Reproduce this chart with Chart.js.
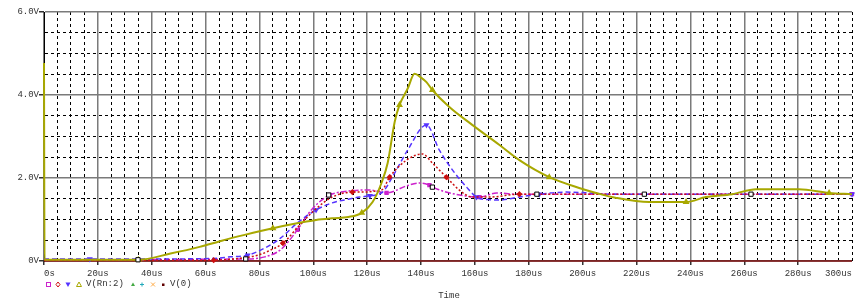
<!DOCTYPE html>
<html><head><meta charset="utf-8">
<script src="https://cdn.jsdelivr.net/npm/chart.js@4/dist/chart.umd.min.js"></script>
<style>
html,body{margin:0;padding:0;background:#fff;}
#wrap{position:relative;width:856px;height:304px;overflow:hidden;background:#fff;}
canvas{position:absolute;left:0;top:0;}
.lt{position:absolute;font:9px "Liberation Mono",monospace;color:#333;white-space:pre;line-height:10px;}
</style></head><body>
<div id="wrap"><canvas id="c" width="856" height="304"></canvas>
<div class="lt" style="left:86px;top:279px">V(Rn:2)</div>
<div class="lt" style="left:170px;top:279px">V(0)</div>
<div style="position:absolute;left:419px;top:291px;width:60px;height:7px;overflow:hidden;"><div class="lt" style="position:relative;text-align:center;width:60px;">Time</div></div>
</div>
<script>
// ---- tick labels ----
const xTickLabels = ['0s','20us','40us','60us','80us','100us','120us','140us','160us','180us','200us','220us','240us','260us','280us','300us'];
const yTickLabels = ['0V','2.0V','4.0V','6.0V'];

// ---- series: V(Rn:2), four sweep traces (time in us, value in V) ----
const oliveT = [0, 0.2, 35, 47, 57.8, 66, 74.5, 85, 94.9, 101, 107, 113, 118, 122, 125.3, 127.6, 130.2, 132, 135, 137.6, 140, 142, 144.2, 150.5, 159, 169, 176.5, 187.6, 198.7, 205, 212.5, 224.7, 238.4, 245.8, 255.5, 264.4, 280.3, 291.5, 300];
const oliveV = [4.77, 0.03, 0.03, 0.18, 0.34, 0.49, 0.63, 0.79, 0.92, 0.99, 1.03, 1.06, 1.16, 1.42, 1.88, 2.36, 3.35, 3.76, 4.15, 4.51, 4.42, 4.31, 4.12, 3.71, 3.28, 2.80, 2.43, 2.02, 1.76, 1.64, 1.52, 1.42, 1.42, 1.54, 1.61, 1.73, 1.73, 1.64, 1.61];

const blueT = [0, 17, 44, 62, 69.2, 75.6, 81.9, 87.8, 94.1, 101, 107, 113, 117.2, 121, 125.7, 130, 135, 142, 146.8, 151.7, 156.9, 160.6, 165, 169.1, 176.5, 183.9, 193.9, 202.5, 210, 300];
const blueV = [0.05, 0.05, 0.05, 0.06, 0.10, 0.14, 0.31, 0.55, 0.92, 1.23, 1.40, 1.49, 1.54, 1.57, 1.66, 2.10, 2.67, 3.28, 2.67, 2.19, 1.78, 1.54, 1.48, 1.47, 1.54, 1.61, 1.66, 1.64, 1.61, 1.61];

const redT = [0, 63, 72, 79.4, 84, 88.7, 95, 100.5, 107, 114.5, 119.7, 122, 125.6, 128.3, 134.6, 140.5, 144.2, 149.4, 154.2, 159, 165.3, 176.5, 300];
const redV = [0.02, 0.02, 0.06, 0.14, 0.26, 0.43, 0.87, 1.23, 1.54, 1.66, 1.66, 1.68, 1.72, 2.02, 2.43, 2.58, 2.36, 2.02, 1.71, 1.54, 1.54, 1.61, 1.61];

const magT = [0, 75, 82, 87.8, 94.1, 97.8, 101.5, 106.1, 113.5, 120.9, 127.2, 134.6, 139.4, 143.1, 146.1, 154.3, 161.7, 168, 175, 300];
const magV = [0.03, 0.05, 0.10, 0.27, 0.75, 1.11, 1.38, 1.59, 1.69, 1.71, 1.64, 1.81, 1.88, 1.83, 1.73, 1.59, 1.54, 1.64, 1.61, 1.61];

// ---- V(0) ----
const v0T = [0, 300];
const v0V = [0, 0];

// ---- cursor-style square markers ----
const boxT = [34.9, 74.9, 105.7, 144.2, 183, 222.9, 262.5];
const boxV = [0.03, 0.05, 1.59, 1.78, 1.61, 1.61, 1.61];

function pts(t, v) { return t.map((x, i) => ({x: x, y: v[i]})); }
function mk(every, off, r) { return c => (c.dataIndex % every === off ? r : 0); }
const isMajX = v => v % 20 === 0 && v < 300;
const isMajY = v => Math.abs(v % 2) < 1e-9;

const legendPlugin = {
  id: 'psLegend',
  afterDraw(chart) {
    const ctx = chart.ctx, y = 284.5;
    ctx.save();
    ctx.lineWidth = 1;
    ctx.strokeStyle = '#cc22cc'; ctx.strokeRect(46.5, y - 2, 4, 4);
    ctx.strokeStyle = '#cc1111'; ctx.beginPath();
    ctx.moveTo(58, y - 2.5); ctx.lineTo(60, y); ctx.lineTo(58, y + 2.5); ctx.lineTo(56, y); ctx.closePath(); ctx.stroke();
    ctx.fillStyle = '#5533ff'; ctx.beginPath();
    ctx.moveTo(65.5, y - 2); ctx.lineTo(70.5, y - 2); ctx.lineTo(68, y + 2.5); ctx.closePath(); ctx.fill();
    ctx.strokeStyle = '#a8a800'; ctx.beginPath();
    ctx.moveTo(79, y - 2.5); ctx.lineTo(81.5, y + 2); ctx.lineTo(76.5, y + 2); ctx.closePath(); ctx.stroke();
    ctx.fillStyle = '#44aa44'; ctx.beginPath();
    ctx.moveTo(133, y - 2); ctx.lineTo(135, y + 1.5); ctx.lineTo(131, y + 1.5); ctx.closePath(); ctx.fill();
    ctx.strokeStyle = '#22aabb'; ctx.beginPath();
    ctx.moveTo(142, y - 2); ctx.lineTo(142, y + 2); ctx.moveTo(140, y); ctx.lineTo(144, y); ctx.stroke();
    ctx.strokeStyle = '#ffaa44'; ctx.beginPath();
    ctx.moveTo(151, y - 2); ctx.lineTo(155, y + 2); ctx.moveTo(155, y - 2); ctx.lineTo(151, y + 2); ctx.stroke();
    ctx.fillStyle = '#600000'; ctx.fillRect(162, y - 1, 2.5, 2.5);
    ctx.restore();
  }
};

const FONT = {family: '"Liberation Mono", monospace', size: 9};

new Chart(document.getElementById('c'), {
  type: 'line',
  data: {
    datasets: [
      {label: 'box', data: pts(boxT, boxV), showLine: false, pointStyle: 'rect', pointRadius: 3,
       pointBackgroundColor: '#ffffff', pointBorderColor: '#000000', pointBorderWidth: 1, order: 0, clip: 6},
      {label: 'V(Rn:2)', data: pts(oliveT, oliveV), borderColor: '#a8a800', borderWidth: 2,
       pointStyle: 'triangle', pointRadius: mk(5, 2, 2), pointBackgroundColor: '#a8a800', pointBorderColor: '#a8a800',
       cubicInterpolationMode: 'monotone', order: 1, clip: 4},
      {label: 'V(Rn:2)', data: pts(redT, redV), borderColor: '#cc1111', borderWidth: 1.5, borderDash: [2, 2],
       pointStyle: 'rectRot', pointRadius: mk(4, 1, 2), pointBackgroundColor: '#cc1111', pointBorderColor: '#cc1111',
       cubicInterpolationMode: 'monotone', order: 2, clip: 4},
      {label: 'V(Rn:2)', data: pts(blueT, blueV), borderColor: '#5533ff', borderWidth: 1.5, borderDash: [5, 3],
       pointStyle: 'triangle', pointRotation: 180, pointRadius: mk(4, 1, 2), pointBackgroundColor: '#5533ff', pointBorderColor: '#5533ff',
       cubicInterpolationMode: 'monotone', order: 3, clip: 4},
      {label: 'V(Rn:2)', data: pts(magT, magV), borderColor: '#cc22cc', borderWidth: 1.5, borderDash: [6, 2, 2, 2],
       pointStyle: 'rect', pointRadius: mk(3, 1, 2), pointBackgroundColor: '#cc22cc', pointBorderColor: '#cc22cc',
       cubicInterpolationMode: 'monotone', order: 4, clip: 4},
      {label: 'V(0)', data: pts(v0T, v0V), borderColor: '#7a0a0a', borderWidth: 1.5, pointRadius: 0, order: 5, clip: 4}
    ]
  },
  options: {
    responsive: false,
    animation: false,
    devicePixelRatio: 1,
    layout: {padding: {left: 0, right: 3, top: 12, bottom: 0}},
    plugins: {legend: {display: false}, tooltip: {enabled: false}},
    events: [],
    elements: {point: {hoverRadius: 0}, line: {tension: 0}},
    scales: {
      x: {
        type: 'linear', min: 0, max: 300,
        afterFit: s => { s.height = 43; },
        ticks: {stepSize: 5, autoSkip: false, maxRotation: 0, minRotation: 0, align: 'inner', padding: 3,
                color: '#333', font: FONT,
                callback: v => (v % 20 === 0 ? xTickLabels[v / 20] : '')},
        grid: {
          color: c => (c.tick && isMajX(c.tick.value) ? '#7a7a7a' : '#000000'),
          lineWidth: c => (c.tick && isMajX(c.tick.value) ? 1.5 : 1),
          tickLength: 4,
          tickColor: c => (c.tick && isMajX(c.tick.value) ? '#333333' : 'rgba(0,0,0,0)')
        },
        border: {display: false, dash: c => (c.tick && isMajX(c.tick.value) ? [] : [3, 3])}
      },
      y: {
        type: 'linear', min: 0, max: 6,
        afterFit: s => { s.width = 44; },
        ticks: {stepSize: 0.5, autoSkip: false, padding: 0, color: '#333', font: FONT,
                callback: v => (isMajY(v) ? yTickLabels[Math.round(v / 2)] : '')},
        grid: {
          color: c => (c.tick && isMajY(c.tick.value) ? '#7a7a7a' : '#000000'),
          lineWidth: c => (c.tick && isMajY(c.tick.value) ? 1.5 : 1),
          tickLength: 5,
          tickColor: c => (c.tick && isMajY(c.tick.value) ? '#333333' : 'rgba(0,0,0,0)')
        },
        border: {display: true, color: '#000000', width: 1, dash: c => (c.tick && isMajY(c.tick.value) ? [] : [3, 3])}
      }
    }
  },
  plugins: [legendPlugin]
});
</script>
</body></html>
